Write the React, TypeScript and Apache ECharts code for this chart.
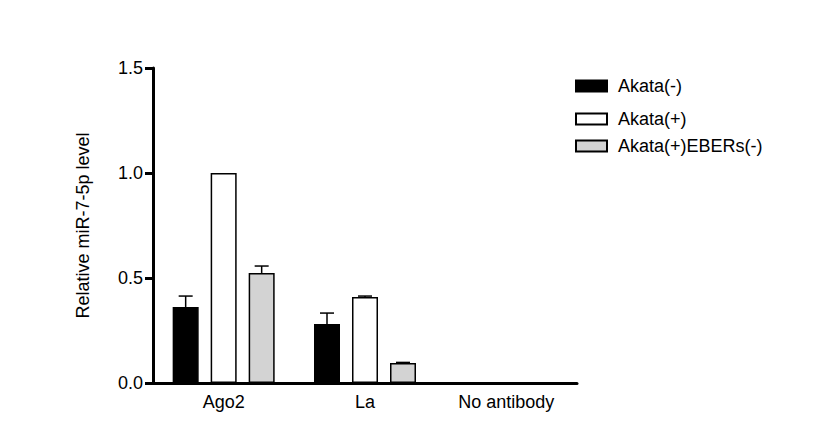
import React, { useEffect, useRef } from "react";
import * as echarts from "echarts";

const categories = ["Ago2", "La", "No antibody"];
const seriesNames = ["Akata(-)", "Akata(+)", "Akata(+)EBERs(-)"];
const akataNeg = [0.362, 0.281, 0];
const akataPos = [1.0, 0.41, 0];
const akataPosEbersNeg = [0.524, 0.095, 0];
const errNeg = [0.052, 0.052, 0];
const errPos = [0, 0.004, 0];
const errEbersNeg = [0.033, 0.003, 0];
const yTicks = [0, 0.5, 1.0, 1.5];

const FONT = "Arial, 'Liberation Sans', sans-serif";
const FS = 18;
const BAR_W = 26;
const BAR_GAP = 12;

export default function App() {
  const ref = useRef<HTMLDivElement>(null);
  useEffect(() => {
    if (!ref.current) return;
    const chart = echarts.init(ref.current, null, { renderer: "svg" });
    const values = [akataNeg, akataPos, akataPosEbersNeg];
    const errs = [errNeg, errPos, errEbersNeg];
    const styles = [
      { color: "#000000", borderColor: "#000000", borderWidth: 1.5 },
      { color: "#ffffff", borderColor: "#000000", borderWidth: 1.5 },
      { color: "#d3d3d3", borderColor: "#000000", borderWidth: 1.5 },
    ];
    const barSeries = seriesNames.map((name, i) => ({
      type: "bar",
      name,
      data: values[i],
      barWidth: BAR_W,
      barGap: (BAR_GAP / BAR_W) * 100 + "%",
      itemStyle: styles[i],
      z: 2,
    }));
    const errSeries = seriesNames.map((name, i) => ({
      type: "custom",
      name: name + " err",
      data: values[i].map((v, k) => [k, v, errs[i][k]]),
      encode: { x: 0, y: 1 },
      z: 3,
      silent: true,
      renderItem: (params: any, api: any) => {
        const x = api.value(0);
        const v = api.value(1);
        const e = api.value(2);
        if (!(e > 0)) return null;
        const offset = (i - 1) * (BAR_W + BAR_GAP);
        const base = api.coord([x, v]);
        const top = api.coord([x, v + e]);
        const cx = base[0] + offset;
        const st = { stroke: "#000", lineWidth: 1.5 };
        return {
          type: "group",
          children: [
            { type: "line", shape: { x1: cx, y1: base[1], x2: cx, y2: top[1] }, style: st },
            { type: "line", shape: { x1: cx - 7, y1: top[1], x2: cx + 7, y2: top[1] }, style: st },
          ],
        };
      },
    }));
    const legendTops = [77, 110, 137];
    const option: any = {
      animation: false,
      backgroundColor: "#ffffff",
      textStyle: { fontFamily: FONT },
      grid: { left: 153, top: 68, right: 236, bottom: 62, containLabel: false },
      legend: seriesNames.map((name, i) => ({
        data: [{ name, icon: "rect" }],
        left: 575,
        top: legendTops[i],
        padding: 0,
        itemWidth: 31,
        itemHeight: 11,
        selectedMode: false,
        textStyle: { fontSize: FS, color: "#000", fontFamily: FONT, padding: [0, 0, 0, 6], lineHeight: 12 },
      })),
      xAxis: {
        type: "category",
        data: categories,
        axisLine: { lineStyle: { color: "#000", width: 3 } },
        axisTick: { alignWithLabel: true, length: 8, lineStyle: { color: "#000", width: 3 } },
        axisLabel: { color: "#000", fontSize: FS, margin: 10, fontFamily: FONT },
      },
      yAxis: {
        type: "value",
        min: yTicks[0],
        max: yTicks[yTicks.length - 1],
        interval: 0.5,
        name: "Relative miR-7-5p level",
        nameLocation: "middle",
        nameRotate: 90,
        nameGap: 61,
        nameTextStyle: { color: "#000", fontSize: FS, fontFamily: FONT },
        splitLine: { show: false },
        axisLine: { show: true, lineStyle: { color: "#000", width: 3 } },
        axisTick: { show: true, length: 8, lineStyle: { color: "#000", width: 3 } },
        axisLabel: {
          color: "#000",
          fontSize: FS,
          margin: 10,
          fontFamily: FONT,
          formatter: (v: number) => v.toFixed(1),
        },
      },
      series: [...barSeries, ...errSeries],
    };
    chart.setOption(option);
    return () => chart.dispose();
  }, []);
  return (
    <div
      ref={ref}
      style={{ position: "fixed", left: 0, top: 0, width: 813, height: 445, background: "#fff" }}
    />
  );
}
